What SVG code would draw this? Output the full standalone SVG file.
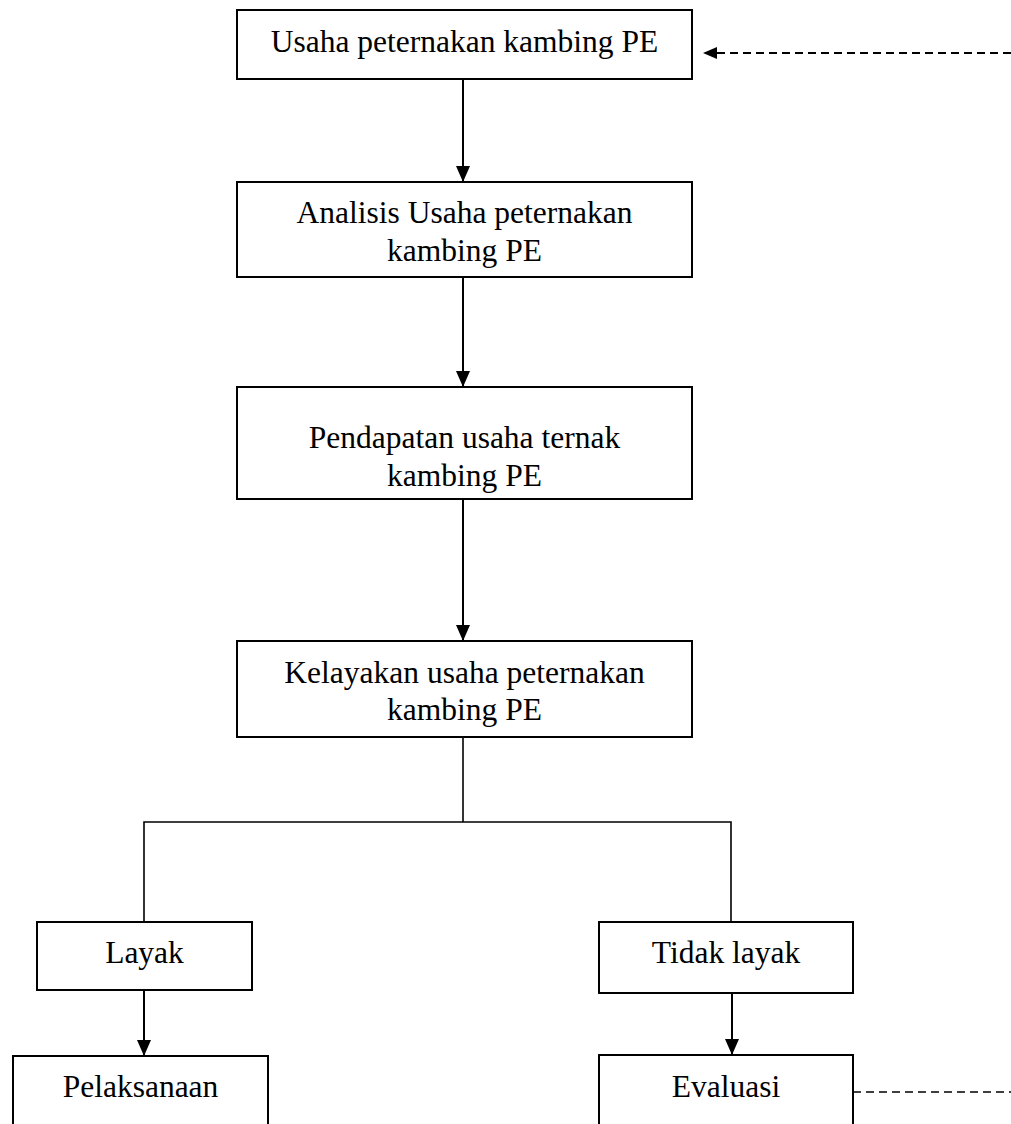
<svg xmlns="http://www.w3.org/2000/svg" width="1011" height="1124" viewBox="0 0 1011 1124">
<style>
.box{fill:#fff;stroke:#000;stroke-width:2}
.t{font-family:"Liberation Serif","Times New Roman",serif;font-size:31.5px;fill:#000;text-anchor:middle}
.ln{stroke:#000;stroke-width:2;fill:none}
.thin{stroke:#000;stroke-width:1.6;fill:none}
.dash{stroke:#000;stroke-width:2;fill:none;stroke-dasharray:8 5}
.dash2{stroke:#000;stroke-width:1.5;fill:none;stroke-dasharray:8 5}
</style>
<defs>
<marker id="ah" markerWidth="14" markerHeight="16" refX="7" refY="16" orient="0" markerUnits="userSpaceOnUse" viewBox="0 0 14 16">
<path d="M0,0 L14,0 L7,16 Z" fill="#000"/>
</marker>
<marker id="ahl" markerWidth="14" markerHeight="12" refX="0" refY="6" orient="0" markerUnits="userSpaceOnUse" viewBox="0 0 14 12">
<path d="M0,6 L14,0 L14,12 Z" fill="#000"/>
</marker>
</defs>
<rect width="1011" height="1124" fill="#fff"/>
<g id="connectors">
<line class="ln" x1="463" y1="79" x2="463" y2="182" marker-end="url(#ah)"/>
<line class="ln" x1="463" y1="277" x2="463" y2="387" marker-end="url(#ah)"/>
<line class="ln" x1="463" y1="499" x2="463" y2="641" marker-end="url(#ah)"/>
<polyline class="thin" points="463,737 463,822"/>
<polyline class="thin" points="144,922 144,822 731,822 731,922"/>
<line class="ln" x1="144" y1="990" x2="144" y2="1056" marker-end="url(#ah)"/>
<line class="ln" x1="732" y1="993" x2="732" y2="1055" marker-end="url(#ah)"/>
<line class="dash" x1="1011" y1="53" x2="717" y2="53"/>
<path d="M703,53 L717,47 L717,59 Z" fill="#000"/>
<line class="dash2" x1="853" y1="1092" x2="1011" y2="1092"/>
</g>
<g id="n1">
<rect class="box" x="237" y="10" width="455" height="69"/>
<text class="t" x="464.5" y="52">Usaha peternakan kambing PE</text>
</g>
<g id="n2">
<rect class="box" x="237" y="182" width="455" height="95"/>
<text class="t" x="464.5" y="223">Analisis Usaha peternakan</text>
<text class="t" x="464.5" y="261">kambing PE</text>
</g>
<g id="n3">
<rect class="box" x="237" y="387" width="455" height="112"/>
<text class="t" x="464.5" y="448">Pendapatan usaha ternak</text>
<text class="t" x="464.5" y="486">kambing PE</text>
</g>
<g id="n4">
<rect class="box" x="237" y="641" width="455" height="96"/>
<text class="t" x="464.5" y="683">Kelayakan usaha peternakan</text>
<text class="t" x="464.5" y="720">kambing PE</text>
</g>
<g id="n5">
<rect class="box" x="37" y="922" width="215" height="68"/>
<text class="t" x="144.5" y="963">Layak</text>
</g>
<g id="n6">
<rect class="box" x="599" y="922" width="254" height="71"/>
<text class="t" x="726" y="963">Tidak layak</text>
</g>
<g id="n7">
<rect class="box" x="13" y="1056" width="255" height="80"/>
<text class="t" x="140.5" y="1097">Pelaksanaan</text>
</g>
<g id="n8">
<rect class="box" x="599" y="1055" width="254" height="80"/>
<text class="t" x="726" y="1097">Evaluasi</text>
</g>
</svg>
